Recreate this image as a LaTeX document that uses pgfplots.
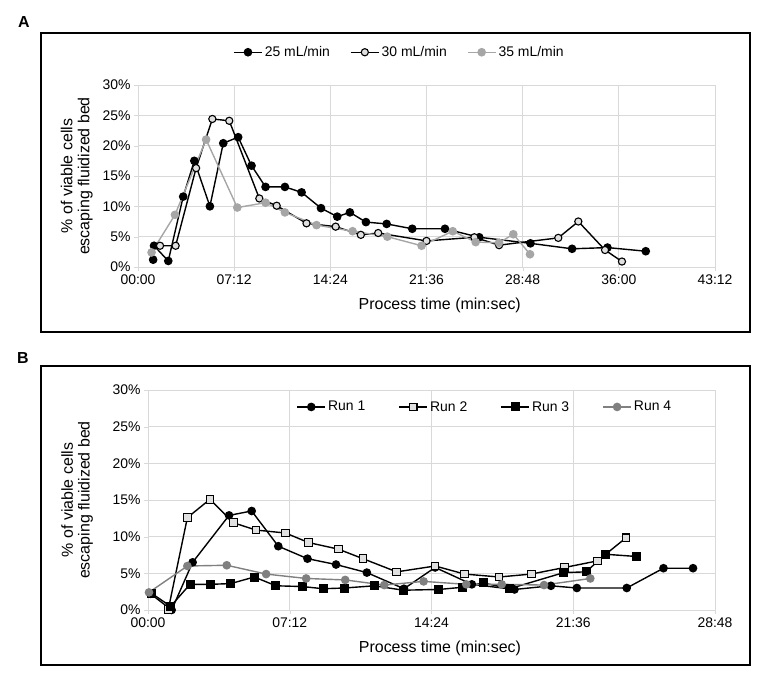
\documentclass[border=0pt]{standalone}
\usepackage{fontspec}
\setmainfont{Liberation Sans}
\usepackage{pgfplots}
\pgfplotsset{compat=1.18}
\definecolor{gridc}{HTML}{D9D9D9}
\definecolor{grayA}{HTML}{A6A6A6}
\definecolor{grayB}{HTML}{808080}
\definecolor{lightfill}{HTML}{E0E0E0}
\pgfplotsset{
  panel/.style={
    scale only axis, anchor=south west,
    ymin=0, ymax=30, ytick={0,5,...,30},
    yticklabels={0\%,5\%,10\%,15\%,20\%,25\%,30\%},
    axis line style={draw=gridc, line width=0.8bp},
    grid=major, grid style={draw=gridc, line width=0.8bp},
    tick style={draw=gridc}, tick align=outside, major tick length=4bp,
    ytick pos=left, xtick pos=bottom,
    tick label style={font=\fontsize{14}{16}\selectfont},
    /pgf/number format/assume math mode=true,
    label style={font=\fontsize{16}{17}\selectfont},
    ylabel={\% of viable cells\\escaping fluidized bed},
    xlabel={Process time (min:sec)},
    legend style={draw=none, fill=none, font=\fontsize{14}{16}\selectfont},
    legend cell align=left,
    legend image code/.code={\draw[mark repeat=2,mark phase=2] plot coordinates {(0cm,0cm) (0.5cm,0cm) (1.0cm,0cm)};},
  },
  s1/.style={black, line width=1.4bp, mark=*, mark size=3.6bp, mark options={fill=black, draw=black}},
  s2/.style={black, line width=1.4bp, mark=*, mark size=3.6bp, mark options={fill=lightfill, draw=black, line width=1.1bp}},
  s3/.style={grayA, line width=1.4bp, mark=*, mark size=3.6bp, mark options={fill=grayA, draw=grayA}},
  r1/.style={black, line width=1.4bp, mark=*, mark size=3.6bp, mark options={fill=black, draw=black}},
  r2/.style={black, line width=1.4bp, mark=square*, mark size=3.8bp, mark options={fill=lightfill, draw=black, line width=1.1bp}},
  r3/.style={black, line width=1.4bp, mark=square*, mark size=3.8bp, mark options={fill=black, draw=black}},
  r4/.style={grayB, line width=1.4bp, mark=*, mark size=3.6bp, mark options={fill=grayB, draw=grayB}},
}
\begin{document}
\begin{tikzpicture}
\useasboundingbox (0bp,0bp) rectangle (767bp,680bp);
\draw[line width=1.3bp] (41bp,348bp) rectangle (750bp,647bp);
\draw[line width=1.3bp] (41bp,15bp) rectangle (750bp,314bp);
\node[font=\fontsize{16}{18}\selectfont\bfseries] at (24bp,658bp) {A};
\node[font=\fontsize{16}{18}\selectfont\bfseries] at (23bp,322bp) {B};
\begin{axis}[panel, at={(138bp,413bp)}, width=577bp, height=182bp,
  xmin=0, xmax=2592, xtick={0,432,864,1296,1728,2160,2592},
  xticklabels={00:00,07:12,14:24,21:36,28:48,36:00,43:12},
  ylabel style={align=center, at={(axis description cs:-0.106,0.5)}, anchor=center},
  xlabel style={at={(axis description cs:0.523,-0.209)}, anchor=center},
  legend columns=3,
  legend style={at={(0.453,1.18)}, anchor=center,
    /tikz/every even column/.append style={column sep=18bp}},
]
\addplot[s1] coordinates {(68,1.2) (72,3.5) (136,1.0) (203,11.6) (253,17.5) (323,10.0) (383,20.4) (450,21.4) (510,16.7) (573,13.2) (660,13.2) (735,12.3) (822,9.7) (895,8.3) (952,9.0) (1024,7.4) (1117,7.1) (1232,6.3) (1379,6.3) (1533,4.9) (1763,3.9) (1950,3.0) (2109,3.2) (2281,2.6)};
\addlegendentry{25 mL/min}
\addplot[s2] coordinates {(99,3.5) (169,3.5) (261,16.3) (334,24.4) (410,24.1) (545,11.3) (623,10.1) (757,7.2) (888,6.65) (1001,5.3) (1079,5.6) (1296,4.3) (1511,4.9) (1622,3.6) (1888,4.8) (1978,7.5) (2098,2.8) (2174,0.9)};
\addlegendentry{30 mL/min}
\addplot[s3] coordinates {(61,2.4) (166,8.6) (306,21.0) (446,9.8) (573,10.6) (660,9.0) (802,6.9) (964,5.9) (1120,5.0) (1274,3.5) (1414,5.9) (1517,4.1) (1622,4.0) (1686,5.4) (1761,2.1)};
\addlegendentry{35 mL/min}
\end{axis}
\begin{axis}[panel, at={(148bp,70bp)}, width=567bp, height=220bp,
  xmin=0, xmax=1728, xtick={0,432,864,1296,1728},
  xticklabels={00:00,07:12,14:24,21:36,28:48},
  ylabel style={align=center, at={(axis description cs:-0.125,0.5)}, anchor=center},
  xlabel style={at={(axis description cs:0.515,-0.173)}, anchor=center},
  legend columns=4,
  legend style={at={(0.594,0.923)}, anchor=center,
    /tikz/every even column/.append style={column sep=31bp}},
]
\addplot[r1] coordinates {(8,2.2) (72,0.0) (136,6.5) (247,12.9) (316,13.5) (397,8.7) (486,7.0) (573,6.2) (667,5.1) (780,2.9) (875,5.8) (987,3.5) (1117,2.8) (1228,3.3) (1307,3.0) (1459,3.0) (1571,5.7) (1661,5.7)};
\addlegendentry{Run 1}
\addplot[r2] coordinates {(62,0.1) (120,12.6) (189,15.1) (260,11.9) (329,10.9) (419,10.5) (489,9.2) (580,8.3) (655,7.0) (758,5.2) (875,6.0) (965,4.9) (1070,4.5) (1168,4.9) (1270,5.8) (1370,6.7) (1457,9.85)};
\addlegendentry{Run 2}
\addplot[r3] coordinates {(10,2.3) (69,0.5) (128,3.5) (189,3.5) (252,3.6) (324,4.5) (390,3.3) (470,3.2) (534,2.9) (599,3.0) (690,3.3) (778,2.7) (886,2.8) (959,3.1) (1021,3.7) (1102,2.9) (1267,5.1) (1335,5.2) (1394,7.6) (1488,7.3)};
\addlegendentry{Run 3}
\addplot[r4] coordinates {(3,2.4) (120,6.0) (240,6.1) (360,4.9) (482,4.3) (601,4.1) (720,3.4) (840,3.9) (970,3.5) (1078,3.5) (1207,3.4) (1348,4.3)};
\addlegendentry{Run 4}
\end{axis}
\end{tikzpicture}
\end{document}
